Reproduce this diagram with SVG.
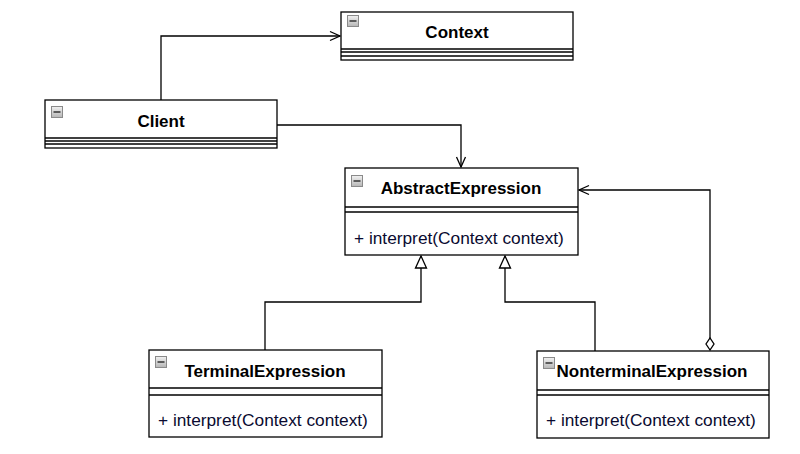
<svg xmlns="http://www.w3.org/2000/svg" width="800" height="454" viewBox="0 0 800 454">
<style>
.box{fill:#fff;stroke:#000;stroke-width:1.3}
.ln{stroke:#000;stroke-width:1.3;fill:none}
.title{font-family:"Liberation Sans",Arial,sans-serif;font-size:17px;font-weight:bold;fill:#000;text-anchor:middle}
.m{font-family:"Liberation Sans",Arial,sans-serif;font-size:17.3px;fill:#0a0a30}
.icon{fill:url(#ig);stroke:#8a8a8a;stroke-width:1}
.minus{stroke:#333;stroke-width:1.5}
.edge{stroke:#000;stroke-width:1.3;fill:none}
</style>
<defs>
<linearGradient id="ig" x1="0" y1="0" x2="0" y2="1">
<stop offset="0" stop-color="#f2f2f2"/>
<stop offset="1" stop-color="#b5b5b5"/>
</linearGradient>
<marker id="open" viewBox="0 0 12 12" refX="11" refY="6" markerWidth="12" markerHeight="12" markerUnits="userSpaceOnUse" orient="auto">
<path d="M1,1.5 L11,6 L1,10.5" fill="none" stroke="#000" stroke-width="1.3"/>
</marker>
<marker id="tri" viewBox="0 0 14 14" refX="13" refY="7" markerWidth="14" markerHeight="14" markerUnits="userSpaceOnUse" orient="auto">
<path d="M1,1.5 L13,7 L1,12.5 Z" fill="#fff" stroke="#000" stroke-width="1.3"/>
</marker>
<marker id="dia" viewBox="0 0 14 10" refX="1" refY="5" markerWidth="14" markerHeight="10" markerUnits="userSpaceOnUse" orient="auto">
<path d="M1,5 L7,1 L13,5 L7,9 Z" fill="#fff" stroke="#000" stroke-width="1.3"/>
</marker>
</defs>
<rect width="800" height="454" fill="#fff"/>
<g id="connectors">
<path class="edge" d="M161,100 V36 H340" marker-end="url(#open)"/>
<path class="edge" d="M277,125 H461 V167" marker-end="url(#open)"/>
<path class="edge" d="M265,350 V302 H421 V256" marker-end="url(#tri)"/>
<path class="edge" d="M595,351 V302 H505 V256" marker-end="url(#tri)"/>
<path class="edge" d="M710,350 V190 H579" marker-start="url(#dia)" marker-end="url(#open)"/>
</g>
<g id="context">
<rect class="box" x="341" y="12" width="232" height="48"/>
<line class="ln" x1="341" y1="49" x2="573" y2="49"/>
<line class="ln" x1="341" y1="52" x2="573" y2="52"/>
<line class="ln" x1="341" y1="56" x2="573" y2="56"/>
<rect class="icon" x="347.5" y="15.5" width="11" height="11"/>
<line class="minus" x1="349.5" y1="21" x2="356.5" y2="21"/>
<text class="title" x="457" y="38">Context</text>
</g>
<g id="client">
<rect class="box" x="45" y="100" width="232" height="48"/>
<line class="ln" x1="45" y1="138" x2="277" y2="138"/>
<line class="ln" x1="45" y1="141" x2="277" y2="141"/>
<line class="ln" x1="45" y1="144" x2="277" y2="144"/>
<rect class="icon" x="51.5" y="106.5" width="11" height="11"/>
<line class="minus" x1="53.5" y1="112" x2="60.5" y2="112"/>
<text class="title" x="161" y="127">Client</text>
</g>
<g id="abstract">
<rect class="box" x="345" y="168" width="233" height="87"/>
<line class="ln" x1="345" y1="207" x2="578" y2="207"/>
<line class="ln" x1="345" y1="212" x2="578" y2="212" stroke-width="2"/>
<rect class="icon" x="351.5" y="175.5" width="11" height="11"/>
<line class="minus" x1="353.5" y1="181" x2="360.5" y2="181"/>
<text class="title" x="461" y="194">AbstractExpression</text>
<text class="m" x="354" y="244">+ interpret(Context context)</text>
</g>
<g id="terminal">
<rect class="box" x="149" y="350" width="233" height="87"/>
<line class="ln" x1="149" y1="388" x2="382" y2="388"/>
<line class="ln" x1="149" y1="395" x2="382" y2="395"/>
<rect class="icon" x="155.5" y="356.5" width="11" height="11"/>
<line class="minus" x1="157.5" y1="362" x2="164.5" y2="362"/>
<text class="title" x="265" y="377">TerminalExpression</text>
<text class="m" x="158" y="426">+ interpret(Context context)</text>
</g>
<g id="nonterminal">
<rect class="box" x="537" y="351" width="232" height="87"/>
<line class="ln" x1="537" y1="390" x2="769" y2="390"/>
<line class="ln" x1="537" y1="395" x2="769" y2="395"/>
<rect class="icon" x="543.5" y="357.5" width="11" height="11"/>
<line class="minus" x1="545.5" y1="363" x2="552.5" y2="363"/>
<text class="title" x="652" y="377">NonterminalExpression</text>
<text class="m" x="546" y="426">+ interpret(Context context)</text>
</g>
</svg>
